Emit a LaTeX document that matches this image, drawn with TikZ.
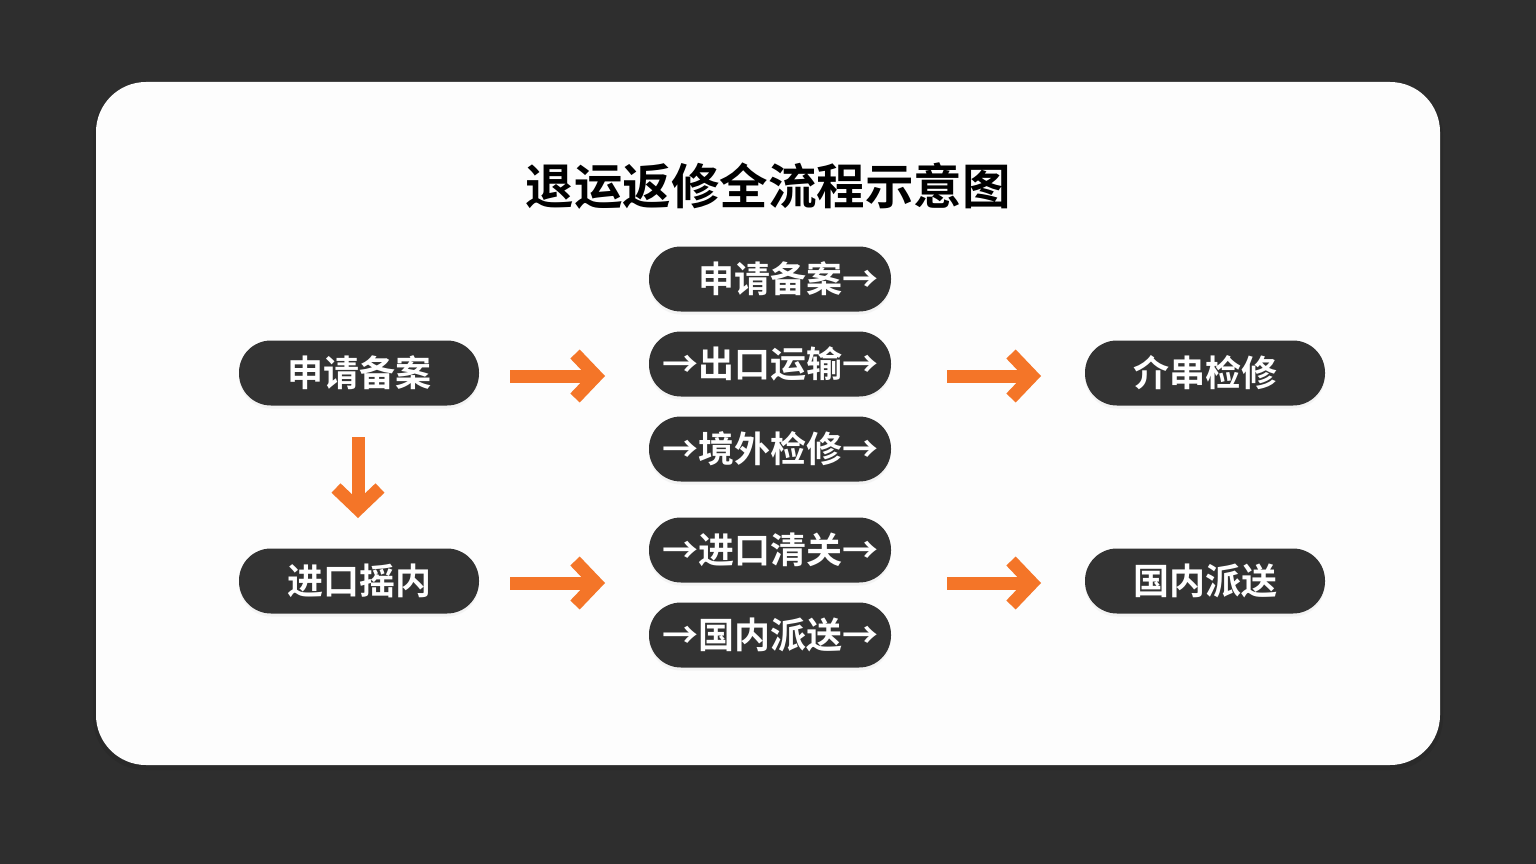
\documentclass[tikz,border=0pt]{standalone}
\usepackage{fontspec}
\newfontfamily\cjk[BoldFont={Noto Sans CJK SC Bold}]{Noto Sans CJK SC}
\usetikzlibrary{arrows.meta,shadows}
\definecolor{bgdark}{HTML}{2E2E2E}
\definecolor{card}{HTML}{FDFDFD}
\definecolor{pill}{HTML}{333333}
\definecolor{orng}{HTML}{F47528}
\tikzset{
  pillbox/.style={rectangle, rounded corners=32pt, fill=pill, text=white,
    minimum width=240pt, minimum height=65pt, inner sep=0pt,
    font=\cjk\bfseries\fontsize{36}{40}\selectfont,
    drop shadow={opacity=0.08, shadow xshift=0pt, shadow yshift=-3pt}},
  midbox/.style={pillbox, minimum width=242pt},
  oarrow/.style={draw=orng, line width=13pt,
    -{Straight Barb[length=21pt, width=44pt, line width=13pt]}},
  titletext/.style={font=\cjk\bfseries\fontsize{48.5}{54}\selectfont, text=black}
}
\begin{document}
\begin{tikzpicture}[x=1pt, y=-1pt]
\useasboundingbox (0,0) rectangle (1536,864);
\fill[bgdark] (0,0) rectangle (1536,864);
\fill[black, opacity=0.08, rounded corners=52pt] (93,84) rectangle (1443,770);
\fill[card, rounded corners=50pt] (96,82) rectangle (1440,765);

\node[titletext] (title) at (768,186) {退运返修全流程示意图};

\node[pillbox] (l1) at (359,373) {申请备案};
\node[pillbox] (l2) at (359,581) {进口摇内};

\node[midbox] (m1) at (770,279) {\phantom{→}申请备案→};
\node[midbox] (m2) at (770,364) {→出口运输→};
\node[midbox] (m3) at (770,449) {→境外检修→};
\node[midbox] (m4) at (770,550) {→进口清关→};
\node[midbox] (m5) at (770,635) {→国内派送→};

\node[pillbox] (r1) at (1205,373) {介串检修};
\node[pillbox] (r2) at (1205,581) {国内派送};

\coordinate (a1s) at (510,376); \coordinate (a1e) at (605,376);
\coordinate (a2s) at (510,583); \coordinate (a2e) at (605,583);
\coordinate (a3s) at (947,376); \coordinate (a3e) at (1041,376);
\coordinate (a4s) at (947,583); \coordinate (a4e) at (1041,583);
\coordinate (a5s) at (358,437); \coordinate (a5e) at (358,518);

\draw[oarrow] (a1s) -- (a1e);
\draw[oarrow] (a2s) -- (a2e);
\draw[oarrow] (a3s) -- (a3e);
\draw[oarrow] (a4s) -- (a4e);
\draw[oarrow] (a5s) -- (a5e);
\end{tikzpicture}
\end{document}
